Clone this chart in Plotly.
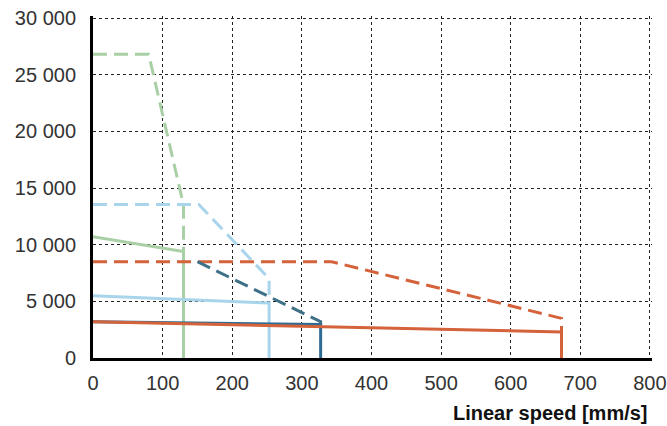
import plotly.graph_objects as go

# Data
green_dash_x = [0, 80, 130, 130]
green_dash_y = [26800, 26800, 13500, 9400]
green_solid_x = [0, 130, 130]
green_solid_y = [10700, 9400, 0]

lblue_dash_x = [0, 152, 253, 253]
lblue_dash_y = [13550, 13550, 7000, 4850]
lblue_solid_x = [0, 253, 253]
lblue_solid_y = [5500, 4850, 0]

teal_dash_x = [150, 327, 327]
teal_dash_y = [8500, 3200, 2950]
blue_solid_x = [0, 327, 327]
blue_solid_y = [3200, 2950, 0]

orange_dash_x = [0, 343, 673, 673]
orange_dash_y = [8500, 8500, 3500, 2300]
orange_solid_x = [0, 673, 673]
orange_solid_y = [3200, 2300, 0]

x_ticks = [0, 100, 200, 300, 400, 500, 600, 700, 800]
y_ticks = [0, 5000, 10000, 15000, 20000, 25000, 30000]
y_ticktext = ["0", "5 000", "10 000", "15 000", "20 000", "25 000", "30 000"]

GREEN = "#a9cfa6"
LBLUE = "#a8d5ec"
TEAL = "#3e7088"
BLUE = "#2f6c95"
ORANGE = "#d4623a"
DASH = "14px,7px"

fig = go.Figure()

def add(x, y, color, dash=None, w=3):
    fig.add_trace(go.Scatter(x=x, y=y, mode="lines",
                             line=dict(color=color, width=w, dash=dash or "solid"),
                             hoverinfo="skip", showlegend=False))

add(green_dash_x, green_dash_y, GREEN, DASH)
add(green_solid_x, green_solid_y, GREEN)
add(lblue_dash_x, lblue_dash_y, LBLUE, DASH)
add(lblue_solid_x, lblue_solid_y, LBLUE)
add(orange_dash_x, orange_dash_y, ORANGE, DASH)
add(teal_dash_x, teal_dash_y, TEAL, DASH)
add(blue_solid_x, blue_solid_y, BLUE)
add(orange_solid_x, orange_solid_y, ORANGE)

fig.update_layout(
    width=667, height=426,
    margin=dict(l=93, r=15, t=16, b=68, autoexpand=False),
    paper_bgcolor="white", plot_bgcolor="white",
    font=dict(family="Liberation Sans, Arial, sans-serif", size=20, color="#333333"),
    xaxis=dict(range=[0, 803], tickvals=x_ticks, showgrid=True, gridcolor="#222222",
               griddash="dot", gridwidth=1, zeroline=False, showline=True,
               linecolor="black", linewidth=3, ticks="outside", ticklen=5,
               tickcolor="rgba(0,0,0,0)", tickfont=dict(size=20, color="#333333"),
               automargin=False, ticklabeloverflow="allow"),
    yaxis=dict(range=[0, 30180], tickvals=y_ticks, ticktext=y_ticktext, showgrid=True,
               gridcolor="#222222", griddash="dot", gridwidth=1, zeroline=False,
               showline=True, linecolor="black", linewidth=3, ticks="outside",
               ticklen=10, tickcolor="rgba(0,0,0,0)",
               tickfont=dict(size=20, color="#333333"), automargin=False,
               ticklabeloverflow="allow"),
    annotations=[dict(text="<b>Linear speed [mm/s]</b>", xref="paper", yref="paper",
                      x=0.996, y=-0.161, xanchor="right", yanchor="middle",
                      showarrow=False, font=dict(size=20, color="#111111"))],
)

fig.write_html(
    "out.html",
    config={"displayModeBar": False},
    post_script="document.body.style.margin='0';document.body.style.overflow='hidden';",
)
